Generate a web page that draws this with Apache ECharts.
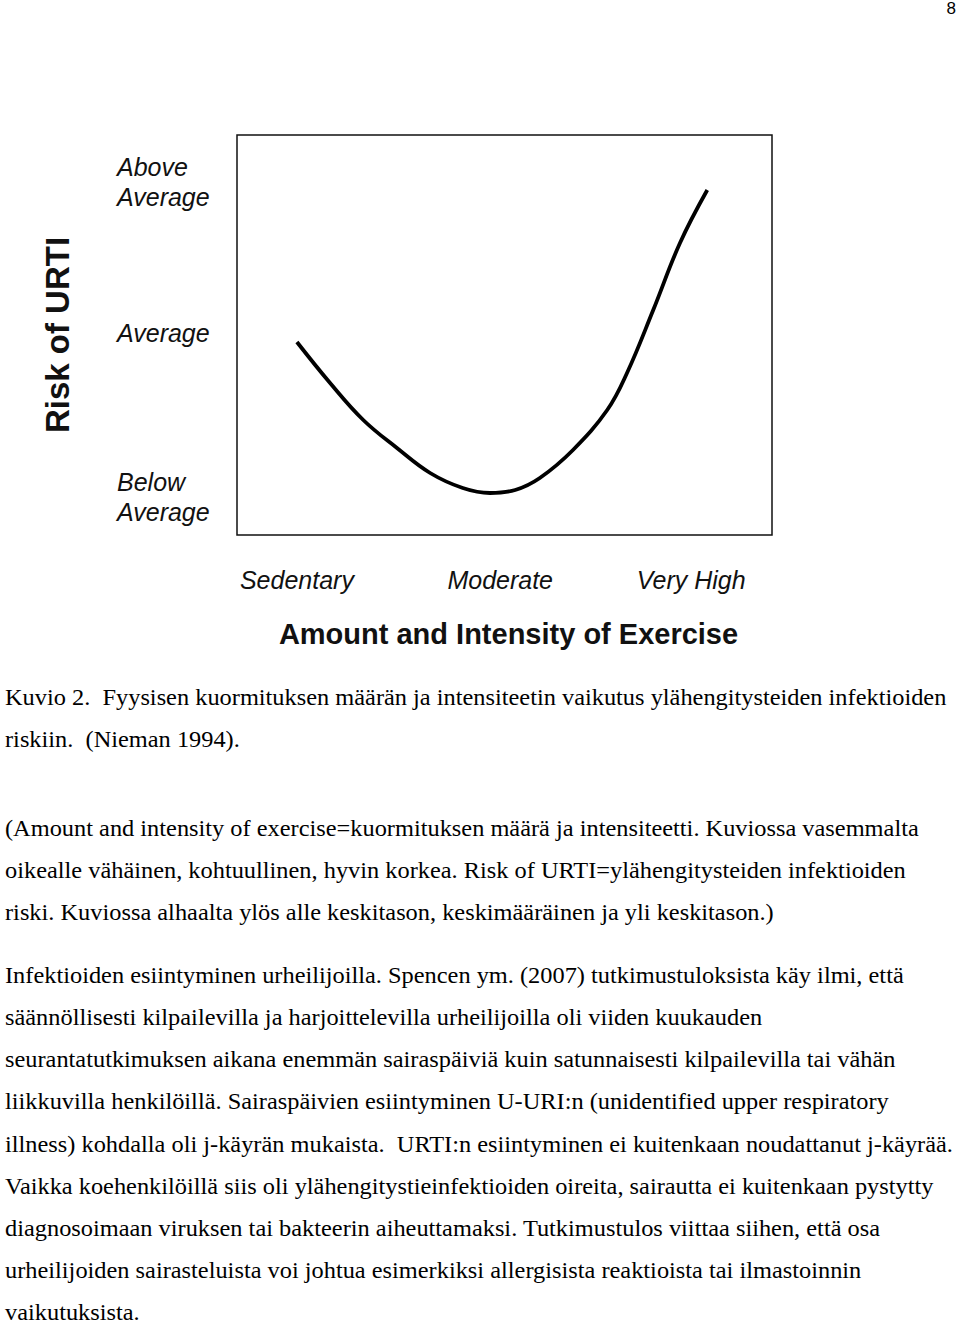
<!DOCTYPE html>
<html>
<head>
<meta charset="utf-8">
<script src="https://cdn.jsdelivr.net/npm/echarts@6/dist/echarts.min.js"></script>
<style>
html,body{margin:0;padding:0;background:#fff;}
#chart{width:960px;height:1324px;}
</style>
</head>
<body>
<div id="chart"></div>
<script>
// ---- data ----
const exerciseX = [11.2, 17.4, 23.6, 29.9, 36.1, 42.2, 47.3, 52.0, 56.6, 62.8, 69.2, 72.9, 77.8, 82.8, 87.9];
const riskY = [48.25, 38, 28.75, 21.75, 15.5, 11.75, 10.5, 11.25, 14.25, 21.25, 31.25, 40.5, 56.25, 73, 86.25];
const xTickValues = [11.2, 49.2, 84.9];
const xTickLabels = ['Sedentary', 'Moderate', 'Very High'];
const yTickValues = [9.5, 50.5, 88.25];
const yTickLabels = ['Below\nAverage', 'Average', 'Above\nAverage'];
const xAxisName = 'Amount and Intensity of Exercise';
const yAxisName = 'Risk of URTI';
const pageNumber = '8';
const captionLines = [
  'Kuvio 2.  Fyysisen kuormituksen määrän ja intensiteetin vaikutus ylähengitysteiden infektioiden',
  'riskiin.  (Nieman 1994).'
];
const noteLines = [
  '(Amount and intensity of exercise=kuormituksen määrä ja intensiteetti. Kuviossa vasemmalta',
  'oikealle vähäinen, kohtuullinen, hyvin korkea. Risk of URTI=ylähengitysteiden infektioiden',
  'riski. Kuviossa alhaalta ylös alle keskitason, keskimääräinen ja yli keskitason.)'
];
const bodyLines = [
  'Infektioiden esiintyminen urheilijoilla. Spencen ym. (2007) tutkimustuloksista käy ilmi, että',
  'säännöllisesti kilpailevilla ja harjoittelevilla urheilijoilla oli viiden kuukauden',
  'seurantatutkimuksen aikana enemmän sairaspäiviä kuin satunnaisesti kilpailevilla tai vähän',
  'liikkuvilla henkilöillä. Sairaspäivien esiintyminen U-URI:n (unidentified upper respiratory',
  'illness) kohdalla oli j-käyrän mukaista.  URTI:n esiintyminen ei kuitenkaan noudattanut j-käyrää.',
  'Vaikka koehenkilöillä siis oli ylähengitystieinfektioiden oireita, sairautta ei kuitenkaan pystytty',
  'diagnosoimaan viruksen tai bakteerin aiheuttamaksi. Tutkimustulos viittaa siihen, että osa',
  'urheilijoiden sairasteluista voi johtua esimerkiksi allergisista reaktioista tai ilmastoinnin',
  'vaikutuksista.'
];

const curveData = exerciseX.map((x, i) => [x, riskY[i]]);

function textBlock(lines, top, step, size, sx) {
  return lines.map((t, i) => ({
    type: 'text',
    x: 5,
    y: top + i * step,
    scaleX: sx,
    style: {
      text: t,
      x: 0, y: 0,
      font: size + 'px "Liberation Serif", "Times New Roman", serif',
      fill: '#000',
      align: 'left',
      verticalAlign: 'middle'
    }
  }));
}

const chart = echarts.init(document.getElementById('chart'), null, { renderer: 'svg' });
chart.setOption({
  backgroundColor: '#fff',
  animation: false,
  grid: {
    left: 237, top: 135, width: 535, height: 400,
    show: true, borderColor: '#111', borderWidth: 1.5, backgroundColor: 'transparent'
  },
  xAxis: {
    type: 'value', min: 0, max: 100,
    name: xAxisName, nameLocation: 'middle', nameGap: 84,
    nameTextStyle: { fontFamily: 'Liberation Sans', fontWeight: 'bold', fontSize: 29, color: '#111', padding: [0, 0, 0, 8] },
    axisLine: { show: false }, axisTick: { show: false }, splitLine: { show: false },
    axisLabel: {
      customValues: xTickValues,
      formatter: (v) => xTickLabels[xTickValues.indexOf(v)] || '',
      margin: 32,
      fontFamily: 'Liberation Sans', fontStyle: 'italic', fontSize: 25, color: '#111'
    }
  },
  yAxis: {
    type: 'value', min: 0, max: 100,
    name: yAxisName, nameLocation: 'middle', nameGap: 163, nameRotate: 90,
    nameTextStyle: { fontFamily: 'Liberation Sans', fontWeight: 'bold', fontSize: 33, color: '#111' },
    axisLine: { show: false }, axisTick: { show: false }, splitLine: { show: false },
    axisLabel: {
      customValues: yTickValues,
      formatter: (v) => yTickLabels[yTickValues.indexOf(v)] || '',
      margin: 120, align: 'left', lineHeight: 30,
      fontFamily: 'Liberation Sans', fontStyle: 'italic', fontSize: 25, color: '#111'
    }
  },
  series: [{
    type: 'line',
    data: curveData,
    smooth: 0.4,
    symbol: 'none',
    lineStyle: { color: '#000', width: 3.8 }
  }],
  graphic: [
    { type: 'text', right: 4, top: 0, style: { text: pageNumber, font: '17px "Liberation Sans", sans-serif', fill: '#000' } },
    ...textBlock(captionLines, 697, 42, 23, 1.06),
    ...textBlock(noteLines, 828, 42, 23, 1.06),
    ...textBlock(bodyLines, 975, 42.2, 23, 1.06)
  ]
});
</script>
</body>
</html>
